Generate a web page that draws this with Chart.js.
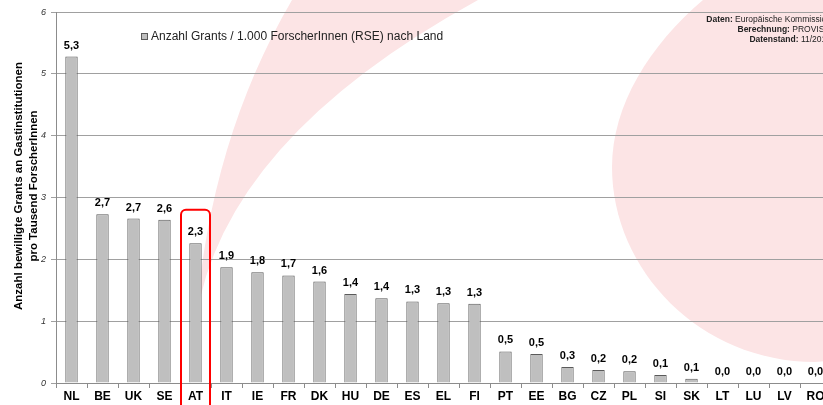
<!DOCTYPE html>
<html lang="de">
<head>
  <meta charset="UTF-8" />
  <title>Grants pro Tausend ForscherInnen</title>
  <script src="https://cdn.jsdelivr.net/npm/chart.js"></script>
  <style>
    html, body { margin: 0; padding: 0; background: #fff; overflow: hidden; }
    #wrap { width: 823px; height: 405px; overflow: hidden; }
  </style>
</head>
<body>
  <div id="wrap">
    <canvas id="barChart" width="840" height="405"></canvas>
  </div>

  <script>
    const countries = ['NL', 'BE', 'UK', 'SE', 'AT', 'IT', 'IE', 'FR', 'DK', 'HU', 'DE', 'ES', 'EL',
      'FI', 'PT', 'EE', 'BG', 'CZ', 'PL', 'SI', 'SK', 'LT', 'LU', 'LV', 'RO'];
    const grantsPerThousand = [5.28, 2.73, 2.66, 2.64, 2.26, 1.87, 1.79, 1.74, 1.64, 1.44, 1.37, 1.32, 1.29,
      1.28, 0.51, 0.47, 0.26, 0.21, 0.19, 0.13, 0.07, 0, 0, 0, 0];
    const yTicks = [0, 1, 2, 3, 4, 5, 6];
    const seriesLabel = 'Anzahl Grants / 1.000 ForscherInnen (RSE) nach Land';
    const yTitle = ['Anzahl bewilligte Grants an Gastinstitutionen', 'pro Tausend ForscherInnen'];
    const sourceLines = [
      ['Daten: ', 'Europäische Kommission'],
      ['Berechnung: ', 'PROVISO'],
      ['Datenstand: ', '11/2012']
    ];
    const highlight = 'AT';

    const FONT = 'Arial, "Liberation Sans", sans-serif';
    const fmt = v => v.toFixed(1).replace('.', ',');

    // pink background swooshes (decoration only)
    const backdrop = {
      id: 'backdrop',
      beforeDraw(chart) {
        const ctx = chart.ctx;
        ctx.save();
        ctx.fillStyle = '#fce4e5';
        ctx.beginPath();
        ctx.moveTo(292, 0);
        ctx.quadraticCurveTo(210, 140, 196, 320);
        ctx.quadraticCurveTo(223, 140, 478, 0);
        ctx.closePath();
        ctx.fill();

        ctx.beginPath();
        ctx.moveTo(703, 0);
        ctx.bezierCurveTo(650, 45, 612, 105, 612, 167);
        ctx.bezierCurveTo(612, 270, 700, 362, 815, 362);
        ctx.lineTo(840, 360);
        ctx.lineTo(840, 0);
        ctx.closePath();
        ctx.fill();
        ctx.restore();
      }
    };

    const extras = {
      id: 'extras',
      afterDatasetsDraw(chart) {
        const ctx = chart.ctx;
        const meta = chart.getDatasetMeta(0);
        const ds = chart.data.datasets[0];
        const x = chart.scales.x, y = chart.scales.y;
        ctx.save();

        // value labels
        ctx.font = 'bold 11px ' + FONT;
        ctx.fillStyle = '#000';
        ctx.textAlign = 'center';
        ctx.textBaseline = 'middle';
        meta.data.forEach((bar, i) => {
          ctx.fillText(fmt(ds.data[i]), bar.x, bar.y - 11);
        });

        // y axis title, two lines
        ctx.save();
        ctx.translate(0, 186);
        ctx.rotate(-Math.PI / 2);
        ctx.font = 'bold 11.5px ' + FONT;
        ctx.fillText(yTitle[0], 0, 19);
        ctx.fillText(yTitle[1], 0, 34);
        ctx.restore();

        // legend
        const lx = chart.chartArea.left + 85, ly = 37;
        ctx.fillStyle = ds.backgroundColor;
        ctx.strokeStyle = ds.borderColor;
        ctx.lineWidth = 1;
        ctx.fillRect(lx + 0.5, ly - 3.5, 6, 6);
        ctx.strokeRect(lx + 0.5, ly - 3.5, 6, 6);
        ctx.font = '12px ' + FONT;
        ctx.fillStyle = '#222';
        ctx.textAlign = 'left';
        ctx.fillText(ds.label, lx + 10, ly);

        // source note, right aligned
        ctx.fillStyle = '#222';
        sourceLines.forEach((ln, i) => {
          ctx.font = 'bold 8.5px ' + FONT;
          const w1 = ctx.measureText(ln[0]).width;
          ctx.font = '8.5px ' + FONT;
          const w2 = ctx.measureText(ln[1]).width;
          const sx = 831 - w1 - w2, sy = 20 + i * 10;
          ctx.font = 'bold 8.5px ' + FONT;
          ctx.fillText(ln[0], sx, sy);
          ctx.font = '8.5px ' + FONT;
          ctx.fillText(ln[1], sx + w1, sy);
        });

        // red frame round AT
        const idx = chart.data.labels.indexOf(highlight);
        const cx = x.getPixelForValue(idx);
        const half = x.width / chart.data.labels.length / 2 - 1;
        const top = y.getPixelForValue(2.8);
        ctx.strokeStyle = '#ff0000';
        ctx.lineWidth = 2;
        ctx.beginPath();
        ctx.roundRect(cx - half, top, half * 2, 420 - top, 5);
        ctx.stroke();
        ctx.restore();
      }
    };

    new Chart(document.getElementById('barChart'), {
      type: 'bar',
      data: {
        labels: countries,
        datasets: [{
          label: seriesLabel,
          data: grantsPerThousand,
          backgroundColor: '#bfbfbf',
          borderColor: '#5a5a5a',
          borderWidth: 1,
          barPercentage: 0.4,
          categoryPercentage: 1
        }]
      },
      options: {
        responsive: false,
        animation: false,
        layout: { padding: { top: 12, right: 9, bottom: 0, left: 0 } },
        plugins: {
          legend: { display: false },
          tooltip: { enabled: false }
        },
        scales: {
          x: {
            afterFit: s => { s.height = 22; },
            grid: { drawOnChartArea: false, drawTicks: true, tickLength: 5, color: '#8c8c8c' },
            border: { color: '#8c8c8c' },
            ticks: {
              padding: 1,
              color: '#000',
              font: { family: FONT, size: 12, weight: 'bold' }
            }
          },
          y: {
            min: 0,
            max: 6,
            afterFit: s => { s.width = 56; },
            afterBuildTicks: s => { s.ticks = yTicks.map(v => ({ value: v })); },
            grid: { color: '#a0a0a0', tickLength: 5 },
            border: { color: '#8c8c8c' },
            ticks: {
              padding: 5,
              color: '#333',
              font: { family: FONT, size: 9, style: 'italic' }
            }
          }
        }
      },
      plugins: [backdrop, extras]
    });
  </script>
</body>
</html>
